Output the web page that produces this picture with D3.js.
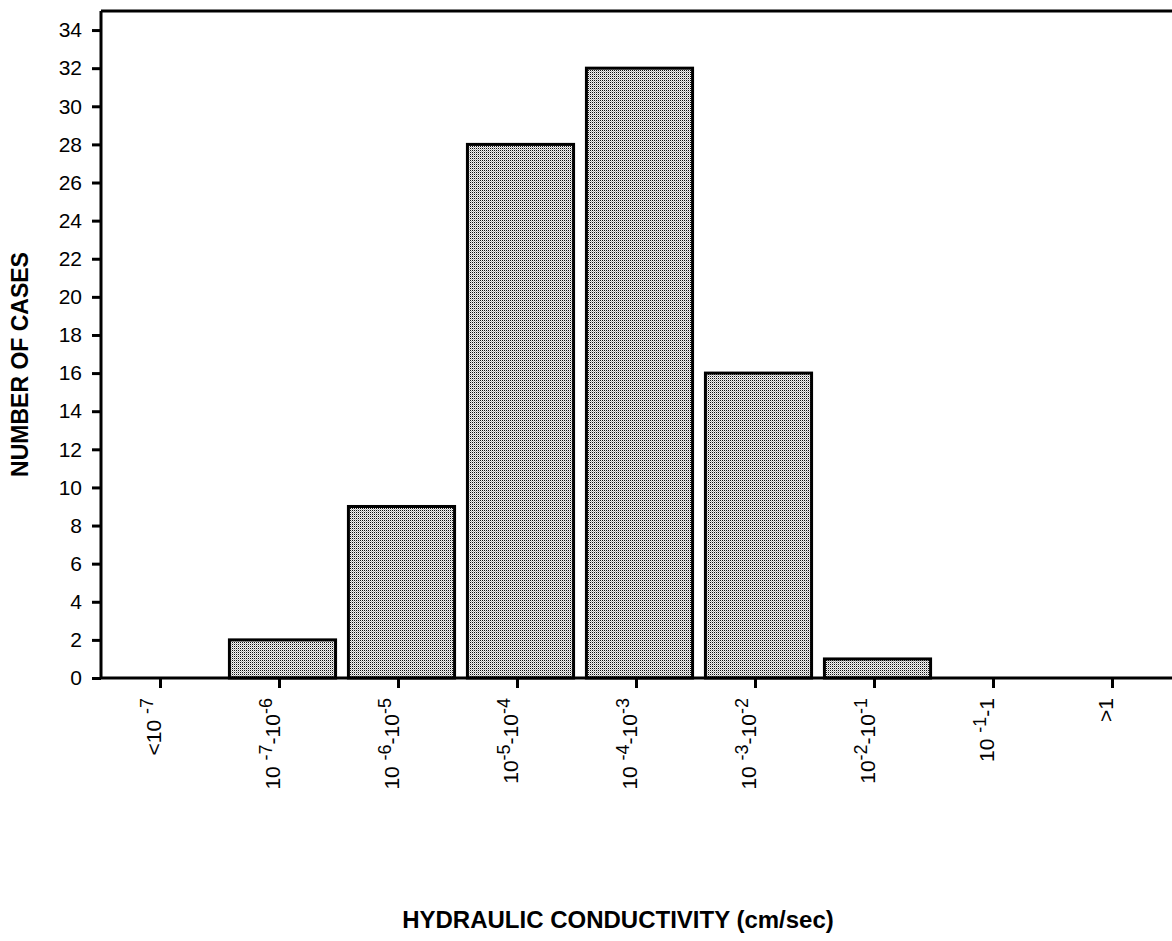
<!DOCTYPE html>
<html>
<head>
<meta charset="utf-8">
<script src="https://cdn.jsdelivr.net/npm/d3@7/dist/d3.min.js"></script>
<style>
  html, body { margin: 0; padding: 0; background: #fff; }
  svg { display: block; font-family: "Liberation Sans", Arial, Helvetica, sans-serif; }
</style>
</head>
<body>
<svg id="chart" width="1172" height="941"></svg>
<script>
// ---- data ----
const categories = ["<10 ^-7", "10 ^-7-10^-6", "10 ^-6-10^-5", "10^-5-10^-4", "10 ^-4-10^-3",
                    "10 ^-3-10^-2", "10^-2-10^-1", "10 ^-1-1", ">1"];
const counts = [0, 2, 9, 28, 32, 16, 1, 0, 0];
const yTicks = [0, 2, 4, 6, 8, 10, 12, 14, 16, 18, 20, 22, 24, 26, 28, 30, 32, 34];
const yTitle = "NUMBER OF CASES";
const xTitle = "HYDRAULIC CONDUCTIVITY (cm/sec)";

// ---- layout ----
const plotLeft = 101, plotRight = 1172, plotTop = 11, plotBase = 678;
const svg = d3.select("#chart");

// pattern fill (halftone look)
const defs = svg.append("defs");
const pat = defs.append("pattern").attr("id", "dots")
  .attr("patternUnits", "userSpaceOnUse").attr("width", 2).attr("height", 2);
pat.append("rect").attr("width", 2).attr("height", 2).attr("fill", "#f4f4f4");
pat.append("rect").attr("width", 1).attr("height", 1).attr("fill", "#111111");
pat.append("rect").attr("x", 1).attr("y", 1).attr("width", 1).attr("height", 1).attr("fill", "#b4b4b4");

const x = d3.scaleBand().domain(categories).range([plotLeft, plotRight]).paddingInner(0.108).paddingOuter(0.054);
const y = d3.scaleLinear().domain([0, 35]).range([plotBase, plotTop]);

// bars
const barShift = 3;
svg.append("g").selectAll("rect")
  .data(categories.map((c, i) => ({c, v: counts[i]})).filter(d => d.v > 0))
  .join("rect")
  .attr("x", d => x(d.c) + barShift)
  .attr("y", d => y(d.v))
  .attr("width", x.bandwidth())
  .attr("height", d => plotBase - y(d.v))
  .attr("fill", "url(#dots)")
  .attr("stroke", "#000")
  .attr("stroke-width", 3);

// y axis
const yAxis = d3.axisLeft(y).tickValues(yTicks).tickSize(9).tickPadding(10).tickSizeOuter(0);
const gy = svg.append("g").attr("transform", `translate(${plotLeft},0)`).call(yAxis);
gy.select(".domain").attr("stroke-width", 3).attr("d", `M0,${plotBase}V${plotTop}`);
gy.selectAll(".tick line").attr("stroke-width", 3);
gy.selectAll(".tick text").attr("font-size", 21).attr("fill", "#000")
  .attr("font-family", "Liberation Sans, Arial, sans-serif");

// top border line
svg.append("line").attr("x1", plotLeft).attr("x2", plotRight).attr("y1", plotTop).attr("y2", plotTop)
  .attr("stroke", "#000").attr("stroke-width", 3);

// x axis
const xAxis = d3.axisBottom(x).tickSize(10).tickSizeOuter(0).tickFormat("");
const gx = svg.append("g").attr("transform", `translate(0,${plotBase})`).call(xAxis);
gx.select(".domain").attr("stroke-width", 3).attr("d", `M${plotLeft},0H${plotRight}`);
gx.selectAll(".tick line").attr("stroke-width", 3);

// rotated tick labels with superscripts
gx.selectAll(".tick").each(function(d) {
  const t = d3.select(this).append("text")
    .attr("transform", "rotate(-90)")
    .attr("x", -20)
    .attr("y", 0)
    .attr("dy", "0.62em")
    .attr("text-anchor", "end")
    .attr("font-size", 21)
    .attr("fill", "#000");
  const parts = d.split(/(\^-?\d+)/).filter(s => s.length);
  let sup = false;
  parts.forEach(p => {
    if (p.startsWith("^")) {
      t.append("tspan").text(p.slice(1)).attr("font-size", 18).attr("dy", -8);
      sup = true;
    } else {
      t.append("tspan").text(p).attr("dy", sup ? 8 : 0);
      sup = false;
    }
  });
});

// axis titles
svg.append("text")
  .attr("transform", `translate(28,${(plotTop + plotBase) / 2 + 20}) rotate(-90)`)
  .attr("text-anchor", "middle")
  .attr("font-size", 23).attr("font-weight", "bold")
  .text(yTitle);

svg.append("text")
  .attr("x", 618).attr("y", 928)
  .attr("text-anchor", "middle")
  .attr("font-size", 24).attr("font-weight", "bold")
  .text(xTitle);
</script>
</body>
</html>
